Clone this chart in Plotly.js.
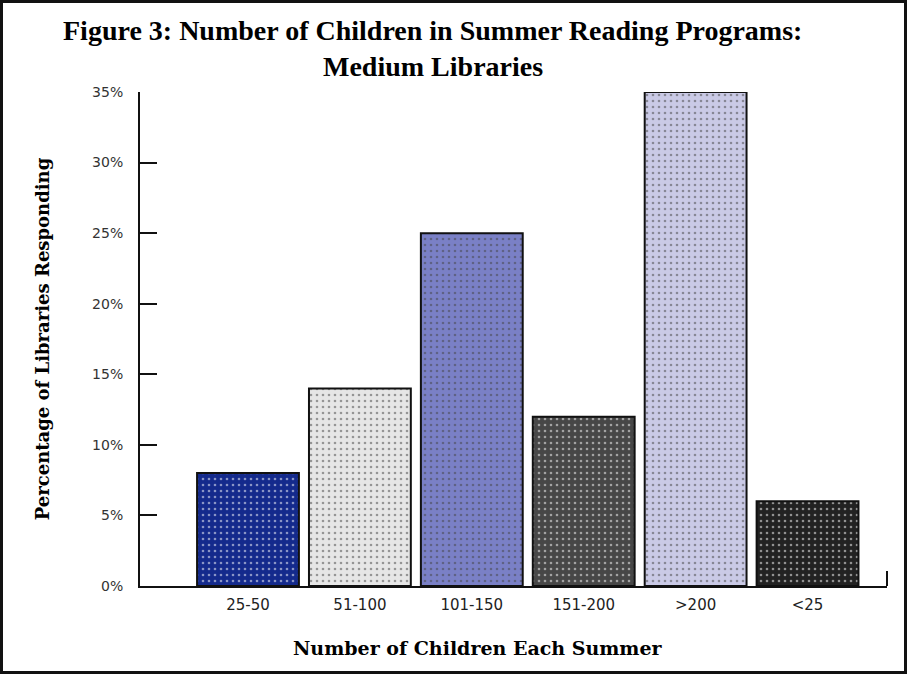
<!DOCTYPE html>
<html>
<head>
<meta charset="utf-8">
<script src="https://cdn.plot.ly/plotly-3.0.1.min.js"></script>
<style>
  html, body { margin: 0; padding: 0; background: #fff; }
  #frame { width: 901px; height: 668px; border: 3px solid #111; }
</style>
</head>
<body>
<div id="frame"><div id="chart"></div></div>
<script>
// Data
const categories = ["25-50", "51-100", "101-150", "151-200", ">200", "<25"];
const percentages = [8, 14, 25, 12, 35, 6];
const yTickVals = [0, 5, 10, 15, 20, 25, 30, 35];
const yTickText = ["0%", "5%", "10%", "15%", "20%", "25%", "30%", "35%"];
const titleLines = ["Figure 3: Number of Children in Summer Reading Programs:", "Medium Libraries"];

// Styles
const barColors = ["#142a8c", "#e6e6e6", "#7a80c6", "#474747", "#cacae6", "#222222"];
const dotColors = ["#2a44a4", "#f2f2f2", "#8a96d6", "#555555", "#9a9ad6", "#2a2a2a"];

const trace = {
  type: "bar",
  x: categories,
  y: percentages,
  width: 0.91,
  marker: {
    color: barColors,
    line: { color: "#111", width: 2 },
    pattern: { shape: ".", fgcolor: dotColors, size: 6, solidity: 0.15, fillmode: "overlay" }
  },
  hoverinfo: "x+y"
};

const layout = {
  width: 901,
  height: 668,
  margin: { l: 137, r: 17, t: 89, b: 85 },
  paper_bgcolor: "#fff",
  plot_bgcolor: "#fff",
  showlegend: false,
  xaxis: {
    type: "category",
    range: [-0.965, 5.71],
    showline: true, linecolor: "#111", linewidth: 2,
    ticks: "", showgrid: false, zeroline: false,
    tickfont: { family: "DejaVu Sans", size: 15, color: "#222" },
    ticklabelstandoff: 4
  },
  yaxis: {
    range: [0, 35],
    tickvals: yTickVals, ticktext: yTickText,
    showline: true, linecolor: "#111", linewidth: 2,
    ticks: "inside", ticklen: 17, tickwidth: 2, tickcolor: "#111",
    showgrid: false, zeroline: false,
    tickfont: { family: "DejaVu Sans", size: 14, color: "#333" },
    ticklabelstandoff: 12,
    title: {
      text: "Percentage of Libraries Responding",
      font: { family: "DejaVu Serif", size: 18, color: "#000", weight: "bold" },
      standoff: 38
    }
  },
  annotations: [
    {
      text: titleLines[0],
      xref: "paper", x: 0.392, xanchor: "center",
      yref: "paper", y: 1.0, yshift: 62, yanchor: "middle",
      showarrow: false,
      font: { family: "Liberation Serif", size: 28, color: "#000", weight: "bold" }
    },
    {
      text: titleLines[1],
      xref: "paper", x: 0.392, xanchor: "center",
      yref: "paper", y: 1.0, yshift: 26, yanchor: "middle",
      showarrow: false,
      font: { family: "Liberation Serif", size: 28, color: "#000", weight: "bold" }
    },
    {
      text: "Number of Children Each Summer",
      xref: "paper", x: 0.452, xanchor: "center",
      yref: "paper", y: -0.125, yanchor: "middle",
      showarrow: false,
      font: { family: "DejaVu Serif", size: 19, color: "#000", weight: "bold" }
    }
  ],
  shapes: [{
    type: "line", xref: "paper", x0: 1, x1: 1,
    yref: "y", ysizemode: "pixel", yanchor: 0, y0: 0, y1: 15,
    line: { color: "#111", width: 2 }
  }]
};

Plotly.newPlot("chart", [trace], layout, { displayModeBar: false, staticPlot: true });
</script>
</body>
</html>
